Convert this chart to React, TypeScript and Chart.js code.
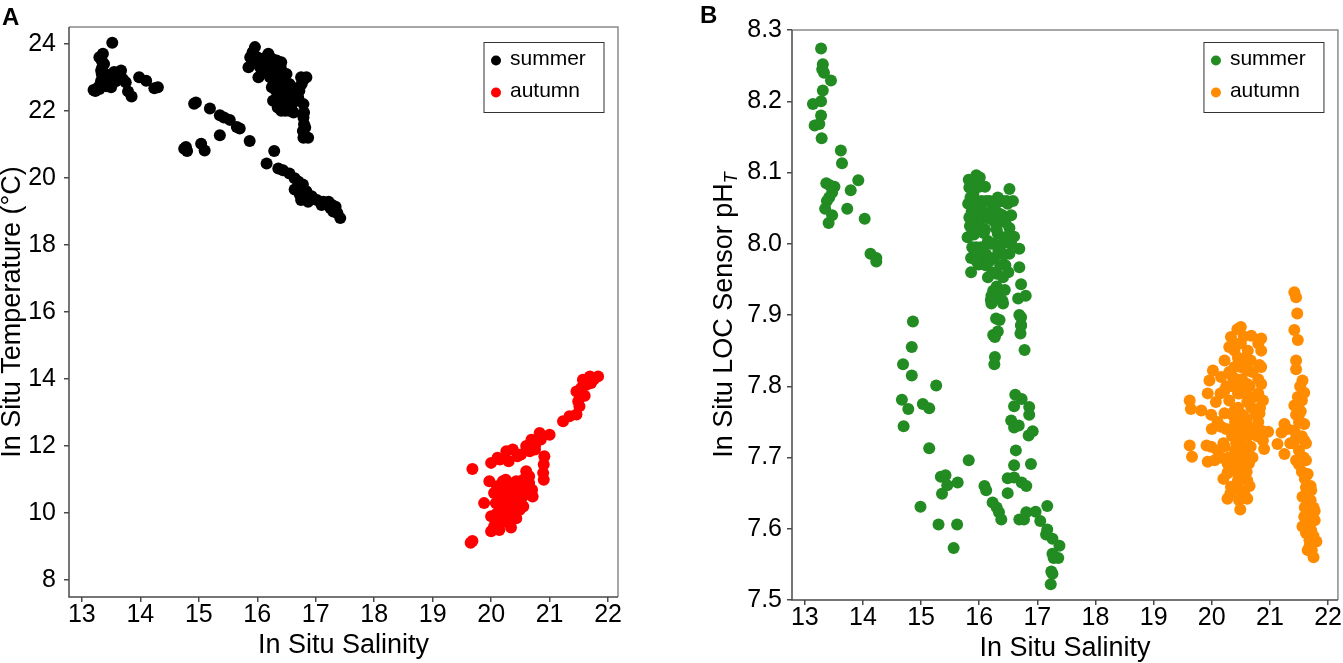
import React, { useEffect, useRef } from "react";
import { Chart, registerables } from "chart.js";

Chart.register(...registerables);

const FONT = '"Liberation Sans", Arial, Helvetica, sans-serif';

// ---------- labels & ticks ----------
const seriesNames = ["summer", "autumn"];
const panelLetters = ["A", "B"];
const xTitleText = "In Situ Salinity";
const yTitleTextA = "In Situ Temperature (°C)";
const yTitleTextB = "In Situ LOC Sensor pH";
const yTitleSubB = "T";
const salinityTicks = [13, 14, 15, 16, 17, 18, 19, 20, 21, 22];
const tempTicks = [8, 10, 12, 14, 16, 18, 20, 22, 24];
const phTicks = [7.5, 7.6, 7.7, 7.8, 7.9, 8.0, 8.1, 8.2, 8.3];

// ---------- panel A : salinity vs temperature ----------
const summerSalA = [
  13.52, 13.23, 13.2, 13.3, 13.33, 13.34, 13.35, 13.34, 13.36, 13.3, 13.38, 13.32, 13.67, 13.85, 13.79, 13.75,
  13.98, 14.1, 14.24, 14.3, 13.47, 13.55, 13.42, 13.58, 13.45, 13.62, 13.5,
  13.33, 13.37, 13.4, 13.5, 13.6, 13.7, 13.28, 13.4,
  14.92, 14.95, 14.75, 14.8, 14.78, 15.04, 15.1, 15.19, 15.36, 15.43, 15.53, 15.36, 15.65, 15.7, 15.87,
  16.16, 16.29, 16.36, 16.44, 16.55, 16.64, 16.7, 16.64, 16.73, 16.78, 16.84, 16.93, 17.02, 17.13, 17.22,
  17.28, 17.34, 17.37, 17.42, 16.75, 16.87, 17.1, 17.3, 17.25,
  15.96, 15.88, 15.85, 16.02, 16.19, 16.33, 16.41, 16.27, 16.41, 16.5, 16.58, 16.47, 16.36, 16.64, 16.76,
  16.84, 16.79, 16.79, 16.82, 16.79, 16.87, 16.1, 16.19, 16.27, 16.36, 16.44, 16.47, 16.53, 16.05, 16.13,
  15.92, 16.0, 16.08, 16.25, 16.3, 16.4, 16.45, 16.55, 16.6, 16.72, 16.75, 16.8, 16.8, 16.8,
  16.0, 16.05, 16.1, 16.15, 16.2, 16.22, 16.28, 16.32, 16.38, 16.42, 16.5, 16.55, 16.6, 16.62, 16.35,
  16.25, 16.45, 16.3, 16.15, 15.95, 16.4, 16.5, 16.48, 16.7, 16.78,
];
const summerTempA = [
  24.03, 22.59, 22.62, 22.65, 22.9, 23.1, 23.3, 23.5, 23.7, 23.6, 23.4, 22.8, 23.2, 22.43, 22.58, 22.85,
  23.0, 22.9, 22.67, 22.7, 23.0, 23.16, 22.73, 22.88, 22.85, 23.05, 22.7,
  23.2, 23.0, 22.9, 22.95, 23.0, 22.95, 22.7, 23.1,
  22.21, 22.25, 20.87, 20.8, 20.92, 21.02, 20.82, 22.07, 21.87, 21.8, 21.73, 21.27, 21.52, 21.47, 21.1,
  20.43, 20.8, 20.28, 20.23, 20.13, 19.99, 19.89, 19.65, 19.49, 19.8, 19.6, 19.45, 19.34, 19.29, 19.29,
  19.19, 19.14, 18.95, 18.8, 19.34, 19.29, 19.19, 19.0, 19.1,
  23.9, 23.6, 23.3, 23.0, 23.7, 23.5, 23.45, 22.3, 22.0, 22.1, 22.3, 22.7, 22.9, 22.5, 22.8,
  23.0, 22.2, 21.8, 21.5, 21.2, 21.2, 23.3, 23.1, 23.3, 23.2, 23.0, 22.5, 22.4, 23.55, 23.45,
  23.75, 23.4, 23.15, 23.55, 23.0, 22.6, 22.25, 22.0, 22.7, 22.6, 23.0, 22.95, 21.95, 21.6,
  23.6, 23.3, 23.5, 23.2, 23.4, 23.0, 22.8, 22.6, 22.4, 22.2, 22.55, 22.8, 22.2, 21.95, 22.1,
  22.7, 22.75, 23.2, 23.6, 23.5, 23.3, 23.1, 22.0, 22.4, 21.4,
];
const autumnSalA = [
  19.68, 19.68, 19.65, 20.0, 20.11, 20.26, 20.37, 20.51, 20.66, 20.69, 20.83, 21.0, 20.91, 20.89, 20.9,
  19.97, 20.2, 20.43, 20.6, 19.88, 20.0, 20.0, 20.14, 20.34, 20.2, 20.37, 20.54, 20.71, 20.49, 20.43,
  20.26, 20.6, 20.08, 20.31, 20.2, 20.3, 20.4, 20.5, 20.65, 20.1, 20.25, 20.45, 20.55, 20.15, 20.3,
  20.45, 20.75, 21.23, 21.34, 21.46, 21.51, 21.49, 21.46, 21.57, 21.69, 21.83, 21.63, 21.54, 21.71,
  21.76, 21.6, 21.52,
  20.15, 20.2, 20.25, 20.3, 20.35, 20.35, 20.4, 20.4, 20.45, 20.5, 20.5, 20.55, 20.6, 20.3, 20.25,
  20.05, 20.1, 20.05, 20.15, 20.2, 20.35, 20.55, 20.7, 20.65, 20.9, 20.75, 20.6, 20.85,
];
const autumnTempA = [
  11.32, 9.17, 9.12, 11.5, 11.65, 11.85, 11.9, 11.75, 11.85, 12.19, 12.39, 12.34, 11.7, 11.2, 11.45,
  10.95, 10.95, 10.95, 11.25, 10.3, 9.91, 9.46, 9.5, 9.57, 10.2, 10.4, 10.5, 10.5, 10.1, 9.85,
  10.6, 10.8, 10.3, 10.8, 10.4, 10.0, 10.25, 10.7, 10.9, 10.0, 9.75, 10.55, 11.0, 11.6, 11.55,
  11.7, 12.0, 12.74, 12.89, 12.94, 13.19, 13.34, 13.63, 13.98, 14.08, 14.08, 13.83, 13.73, 13.88,
  14.0, 13.5, 13.5,
  10.5, 10.7, 10.3, 10.5, 10.7, 10.2, 10.45, 10.9, 10.3, 10.9, 10.35, 10.7, 10.6, 10.9, 11.0,
  10.6, 10.8, 9.6, 9.7, 9.9, 10.05, 10.2, 10.7, 11.1, 11.0, 11.9, 12.0, 12.2,
];

// ---------- panel B : salinity vs pH ----------
const summerSalB = [
  13.28, 13.31, 13.3, 13.33, 13.45, 13.14, 13.28, 13.31, 13.28, 13.17, 13.25, 13.29, 13.62, 13.64, 13.37,
  13.51, 13.42, 13.38, 13.35, 13.47, 13.41, 13.73, 13.79, 13.92, 14.03, 14.13, 14.23, 14.23, 13.47, 13.43,
  15.95, 15.83, 15.81, 15.83, 15.8, 15.86, 15.86, 16.01, 16.04, 16.01, 16.07, 16.15, 16.21, 16.21, 16.3,
  16.32, 16.35, 16.32, 16.38, 16.41, 16.24, 16.41, 16.52, 16.49, 16.52, 16.52, 16.55, 16.21, 16.15, 15.91,
  15.97, 16.29, 16.35, 16.24, 16.32, 16.69, 16.69, 16.72, 16.8, 16.67, 16.69, 16.72, 16.71, 16.07, 15.99,
  16.27, 16.27, 16.26, 16.72, 16.72, 16.78, 16.4, 16.2, 15.9, 16.1, 16.0, 16.1, 15.95, 16.1, 16.25, 16.45,
  16.45, 16.3, 16.18, 16.4, 16.58, 16.6, 15.88, 16.05,
  15.82, 15.85, 15.87, 15.84, 15.88, 15.9, 15.93, 15.95, 15.97, 15.92, 15.96, 16.0, 16.03, 16.05, 16.08,
  16.03, 16.12, 16.12, 16.17, 16.17, 16.2, 16.22, 16.25, 16.27, 16.28, 16.3, 16.33, 16.36, 16.36, 16.4,
  16.4, 16.43, 16.47, 16.47, 16.5, 16.35, 16.28, 16.44, 16.55, 15.98,
  14.86, 14.84, 14.69, 14.84, 14.67, 14.78, 14.7, 15.26, 15.03, 15.14, 15.14, 14.99, 15.34, 15.42, 15.45,
  15.36, 15.63, 15.3, 15.62, 15.56, 15.82, 16.09, 16.12, 16.23, 16.3, 16.34, 16.38, 16.49, 16.49, 16.6,
  16.6, 16.63, 16.55, 16.6, 16.68, 16.6, 16.62, 16.73, 16.73, 16.81, 16.69, 16.77, 16.86, 16.86, 16.85,
  16.92, 16.89, 16.81, 16.97, 17.05, 17.17, 17.17, 17.15, 17.26, 17.38, 17.26, 17.28, 17.36, 17.24, 17.26,
  17.23,
];
const summerPhB = [
  8.274, 8.252, 8.245, 8.24, 8.229, 8.196, 8.2, 8.215, 8.18, 8.166, 8.168, 8.148, 8.131, 8.113, 8.085,
  8.08, 8.065, 8.06, 8.049, 8.04, 8.029, 8.049, 8.075, 8.089, 8.035, 7.986, 7.98, 7.975, 8.072, 8.082,
  8.096, 8.079, 8.056, 8.037, 8.009, 7.98, 7.96, 8.093, 8.06, 8.022, 7.99, 7.953, 7.927, 7.916, 7.958,
  8.065, 8.042, 8.014, 7.986, 7.953, 7.934, 7.916, 8.077, 8.056, 8.022, 7.986, 8.0, 8.046, 8.004, 8.013,
  8.051, 7.895, 7.893, 7.872, 7.877, 7.993, 7.967, 7.943, 7.927, 7.923, 7.9, 7.886, 7.874, 8.041, 7.971,
  7.869, 7.841, 7.831, 7.897, 7.885, 7.851, 7.92, 7.921, 8.07, 8.08, 8.03, 8.02, 7.995, 7.97, 8.0, 8.03,
  7.97, 7.94, 8.06, 8.06, 8.06, 8.01, 8.02, 7.985,
  8.09, 8.065, 8.045, 8.025, 7.995, 8.085, 8.06, 8.04, 8.02, 7.99, 7.975, 8.08, 8.05, 8.035, 8.015,
  7.995, 8.06, 7.985, 8.035, 7.975, 8.0, 7.96, 7.98, 8.03, 8.055, 8.02, 7.99, 7.97, 8.06, 8.04,
  8.0, 7.985, 8.06, 8.01, 7.96, 7.935, 7.925, 7.935, 8.04, 8.09,
  7.891, 7.855, 7.831, 7.815, 7.781, 7.768, 7.744, 7.801, 7.775, 7.769, 7.713, 7.631, 7.673, 7.675, 7.661,
  7.649, 7.665, 7.606, 7.606, 7.573, 7.696, 7.66, 7.654, 7.637, 7.63, 7.623, 7.613, 7.671, 7.65, 7.672,
  7.689, 7.71, 7.752, 7.742, 7.745, 7.772, 7.788, 7.782, 7.665, 7.66, 7.613, 7.613, 7.771, 7.76, 7.731,
  7.737, 7.691, 7.623, 7.624, 7.611, 7.632, 7.599, 7.592, 7.586, 7.576, 7.565, 7.559, 7.559, 7.54, 7.537,
  7.522,
];
const autumnSalB = [
  21.42, 21.45, 21.47, 21.42, 21.48, 21.45, 21.45, 21.56, 21.59, 21.48, 21.42, 21.53, 21.25, 21.2, 21.42,
  21.59, 21.13, 21.25, 21.45, 21.59, 21.45, 21.62, 21.65, 21.62, 21.71, 21.56, 21.65, 21.77, 21.59, 21.77,
  21.71, 21.68, 21.8, 21.68, 21.75, 21.56, 21.62, 21.5, 21.5, 21.55, 21.35, 21.7, 21.72,
  21.5, 21.55, 21.5, 21.6, 21.65, 21.7, 21.75, 21.72, 21.68, 21.4, 21.3, 21.45,
  21.58, 21.62, 21.55, 21.6, 21.66, 21.7, 21.75, 21.73, 21.65, 21.52,
  19.62, 19.64, 19.82, 19.62, 19.66, 19.91, 19.93, 20.02, 19.96, 20.16, 19.93, 20.07, 19.99, 20.22, 20.33,
  20.3, 20.5, 20.68, 20.85, 20.85, 20.39, 20.5, 20.67, 20.85, 20.36, 20.61, 20.85, 20.22, 20.45, 20.73,
  20.88, 20.22, 20.39, 20.56, 20.82, 20.16, 20.39, 20.61, 20.85, 20.97, 20.88, 20.9, 19.99, 20.22, 20.45,
  20.67, 20.05, 20.27, 20.5, 20.64, 20.27, 20.45, 20.61, 20.33, 20.56, 20.27, 20.47, 20.61, 20.49, 20.39,
  20.61, 20.61, 20.39, 20.45, 20.5, 20.55, 20.4, 20.48, 20.52, 20.58, 20.7, 20.75, 20.7, 20.8, 20.35,
  20.42, 20.62,
  20.4, 20.45, 20.5, 20.55, 20.42, 20.5, 20.58, 20.45, 20.52, 20.4, 20.6, 20.48, 20.55, 20.42, 20.58,
  20.5, 20.45, 20.6, 20.52, 20.4, 20.55, 20.47, 20.65, 20.35, 20.3, 20.25, 20.3, 20.8, 20.82, 20.8,
  20.83, 20.8, 20.78, 20.1, 20.1, 20.0, 20.15, 20.2, 20.32,
  20.3, 20.35, 20.25, 20.65, 20.68, 20.62, 20.2, 20.15, 20.28, 20.65, 20.68, 20.55, 20.44,
];
const autumnPhB = [
  7.932, 7.925, 7.902, 7.879, 7.865, 7.836, 7.824, 7.808, 7.791, 7.785, 7.773, 7.765, 7.747, 7.735, 7.738,
  7.747, 7.719, 7.705, 7.728, 7.724, 7.696, 7.696, 7.677, 7.658, 7.654, 7.645, 7.63, 7.625, 7.617, 7.612,
  7.598, 7.584, 7.582, 7.575, 7.56, 7.603, 7.594, 7.75, 7.71, 7.73, 7.72, 7.64, 7.57,
  7.76, 7.78, 7.69, 7.67, 7.64, 7.61, 7.59, 7.62, 7.6, 7.72, 7.74, 7.76,
  7.7, 7.72, 7.68, 7.63, 7.6, 7.66, 7.63, 7.58, 7.57, 7.8,
  7.78, 7.768, 7.766, 7.717, 7.701, 7.717, 7.694, 7.822, 7.808, 7.813, 7.79, 7.778, 7.76, 7.836, 7.869,
  7.855, 7.883, 7.871, 7.867, 7.85, 7.85, 7.827, 7.836, 7.827, 7.813, 7.803, 7.803, 7.794, 7.79, 7.785,
  7.78, 7.762, 7.766, 7.757, 7.762, 7.743, 7.738, 7.743, 7.738, 7.736, 7.724, 7.712, 7.715, 7.715, 7.719,
  7.715, 7.696, 7.692, 7.701, 7.692, 7.678, 7.668, 7.668, 7.659, 7.65, 7.642, 7.64, 7.642, 7.627, 7.687,
  7.778, 7.822, 7.827, 7.75, 7.72, 7.7, 7.71, 7.79, 7.81, 7.84, 7.82, 7.76, 7.7, 7.79, 7.73,
  7.68, 7.73,
  7.86, 7.84, 7.86, 7.83, 7.81, 7.8, 7.79, 7.77, 7.76, 7.75, 7.75, 7.74, 7.73, 7.72, 7.71,
  7.69, 7.7, 7.68, 7.67, 7.66, 7.65, 7.655, 7.66, 7.76, 7.78, 7.74, 7.7, 7.86, 7.83, 7.81,
  7.77, 7.75, 7.73, 7.75, 7.71, 7.74, 7.79, 7.67, 7.65,
  7.82, 7.8, 7.8, 7.8, 7.77, 7.85, 7.72, 7.7, 7.68, 7.7, 7.74, 7.87, 7.88,
];

const pair = (xs: number[], ys: number[]) => xs.map((x, i) => ({ x, y: ys[i] }));

type Panel = {
  letter: string;
  letterX: number;
  letterY: number;
  colors: string[];
  sets: { x: number; y: number }[][];
  yTicks: number[];
  yMin: number;
  yMax: number;
  yDecimals: number;
  yTickPad: number;
  yAxisWidth: number;
  xAxisHeight: number;
  padTop: number;
  padRight: number;
  yTitle: string;
  ySub?: string;
  yTitleX: number;
  xTitleY: number;
  width: number;
};

const panels: Panel[] = [
  {
    letter: panelLetters[0],
    letterX: 2,
    letterY: 25,
    colors: ["#000000", "#ff0000"],
    sets: [pair(summerSalA, summerTempA), pair(autumnSalA, autumnTempA)],
    yTicks: tempTicks,
    yMin: 7.5,
    yMax: 24.5,
    yDecimals: 0,
    yTickPad: 8,
    yAxisWidth: 69,
    xAxisHeight: 66,
    padTop: 27,
    padRight: 42,
    yTitle: yTitleTextA,
    yTitleX: 20,
    xTitleY: 653,
    width: 660,
  },
  {
    letter: panelLetters[1],
    letterX: 20,
    letterY: 23,
    colors: ["#228B22", "#FF8C00"],
    sets: [pair(summerSalB, summerPhB), pair(autumnSalB, autumnPhB)],
    yTicks: phTicks,
    yMin: 7.5,
    yMax: 8.3,
    yDecimals: 1,
    yTickPad: 5,
    yAxisWidth: 112,
    xAxisHeight: 63,
    padTop: 30,
    padRight: 2,
    yTitle: yTitleTextB,
    ySub: yTitleSubB,
    yTitleX: 52,
    xTitleY: 656,
    width: 663,
  },
];

function decorPlugin(p: Panel) {
  return {
    id: "decor" + p.letter,
    afterDraw(chart: any) {
      const ctx: CanvasRenderingContext2D = chart.ctx;
      const ca = chart.chartArea;
      ctx.save();
      // frame
      ctx.lineWidth = 1.5;
      ctx.strokeStyle = "#8a8a8a";
      ctx.beginPath();
      ctx.moveTo(ca.left, ca.top);
      ctx.lineTo(ca.right, ca.top);
      ctx.lineTo(ca.right, ca.bottom);
      ctx.stroke();
      ctx.strokeStyle = "#4a4a4a";
      ctx.beginPath();
      ctx.moveTo(ca.left, ca.top);
      ctx.lineTo(ca.left, ca.bottom);
      ctx.lineTo(ca.right, ca.bottom);
      ctx.stroke();

      // legend
      const bw = 120;
      const bh = 70;
      const bx = ca.right - 14 - bw;
      const by = 42.5;
      ctx.fillStyle = "#ffffff";
      ctx.fillRect(bx, by, bw, bh);
      ctx.lineWidth = 1;
      ctx.strokeStyle = "#333333";
      ctx.strokeRect(bx, by, bw, bh);
      ctx.font = `21px ${FONT}`;
      ctx.textBaseline = "middle";
      ctx.textAlign = "left";
      chart.data.datasets.forEach((ds: any, i: number) => {
        const cy = by + 18 + i * 32;
        ctx.fillStyle = ds.backgroundColor;
        ctx.beginPath();
        ctx.arc(bx + 12, cy, 5, 0, Math.PI * 2);
        ctx.fill();
        ctx.fillStyle = "#000";
        ctx.fillText(ds.label, bx + 26, cy - 1);
      });

      // x title
      ctx.fillStyle = "#000";
      ctx.font = `27px ${FONT}`;
      ctx.textAlign = "center";
      ctx.textBaseline = "alphabetic";
      ctx.fillText(xTitleText, (ca.left + ca.right) / 2, p.xTitleY);

      // y title (rotated)
      ctx.save();
      ctx.translate(p.yTitleX, (ca.top + ca.bottom) / 2);
      ctx.rotate(-Math.PI / 2);
      ctx.font = `27px ${FONT}`;
      const w1 = ctx.measureText(p.yTitle).width;
      let w2 = 0;
      if (p.ySub) {
        ctx.font = `italic 18px ${FONT}`;
        w2 = ctx.measureText(p.ySub).width;
      }
      const start = -(w1 + w2) / 2;
      ctx.textAlign = "left";
      ctx.font = `27px ${FONT}`;
      ctx.fillText(p.yTitle, start, 0);
      if (p.ySub) {
        ctx.font = `italic 18px ${FONT}`;
        ctx.fillText(p.ySub, start + w1, 5);
      }
      ctx.restore();

      // panel letter
      ctx.font = `bold 24px ${FONT}`;
      ctx.textAlign = "left";
      ctx.textBaseline = "alphabetic";
      ctx.fillText(p.letter, p.letterX, p.letterY);
      ctx.restore();
    },
  };
}

function PanelChart({ p, left }: { p: Panel; left: number }) {
  const ref = useRef<HTMLCanvasElement | null>(null);
  useEffect(() => {
    if (!ref.current) return;
    const gridOpts = {
      display: true,
      drawOnChartArea: false,
      drawTicks: true,
      tickLength: 5,
      color: "#4a4a4a",
      lineWidth: 1.5,
    };
    const chart = new Chart(ref.current, {
      type: "scatter",
      data: {
        datasets: p.sets.map((d, i) => ({
          label: seriesNames[i],
          data: d,
          backgroundColor: p.colors[i],
          borderColor: p.colors[i],
          borderWidth: 0,
          pointRadius: 6,
          pointHoverRadius: 6,
        })),
      },
      options: {
        responsive: false,
        animation: false,
        events: [],
        layout: {
          autoPadding: false,
          padding: { top: p.padTop, right: p.padRight, left: 0, bottom: 0 },
        },
        plugins: {
          legend: { display: false },
          tooltip: { enabled: false },
          title: { display: false },
        },
        scales: {
          x: {
            type: "linear",
            min: 12.78,
            max: 22.17,
            afterBuildTicks: (s: any) => {
              s.ticks = salinityTicks.map((v) => ({ value: v }));
            },
            afterFit: (s: any) => {
              s.height = p.xAxisHeight;
            },
            ticks: {
              color: "#000",
              padding: 1,
              maxRotation: 0,
              autoSkip: false,
              font: { family: FONT, size: 25, lineHeight: 1 },
              callback: (v: any) => String(v),
            },
            grid: gridOpts,
            border: { display: false },
          },
          y: {
            type: "linear",
            min: p.yMin,
            max: p.yMax,
            afterBuildTicks: (s: any) => {
              s.ticks = p.yTicks.map((v) => ({ value: v }));
            },
            afterFit: (s: any) => {
              s.width = p.yAxisWidth;
            },
            ticks: {
              color: "#000",
              padding: p.yTickPad,
              autoSkip: false,
              font: { family: FONT, size: 25, lineHeight: 1 },
              callback: (v: any) => Number(v).toFixed(p.yDecimals),
            },
            grid: gridOpts,
            border: { display: false },
          },
        },
      } as any,
      plugins: [decorPlugin(p)],
    });
    return () => chart.destroy();
  }, [p]);
  return (
    <canvas
      ref={ref}
      width={p.width}
      height={663}
      style={{ position: "absolute", left, top: 0, width: p.width, height: 663 }}
    />
  );
}

export default function App() {
  return (
    <div
      style={{
        position: "fixed",
        left: 0,
        top: 0,
        width: 1343,
        height: 663,
        background: "#fff",
        overflow: "hidden",
      }}
    >
      <PanelChart p={panels[0]} left={0} />
      <PanelChart p={panels[1]} left={680} />
    </div>
  );
}
